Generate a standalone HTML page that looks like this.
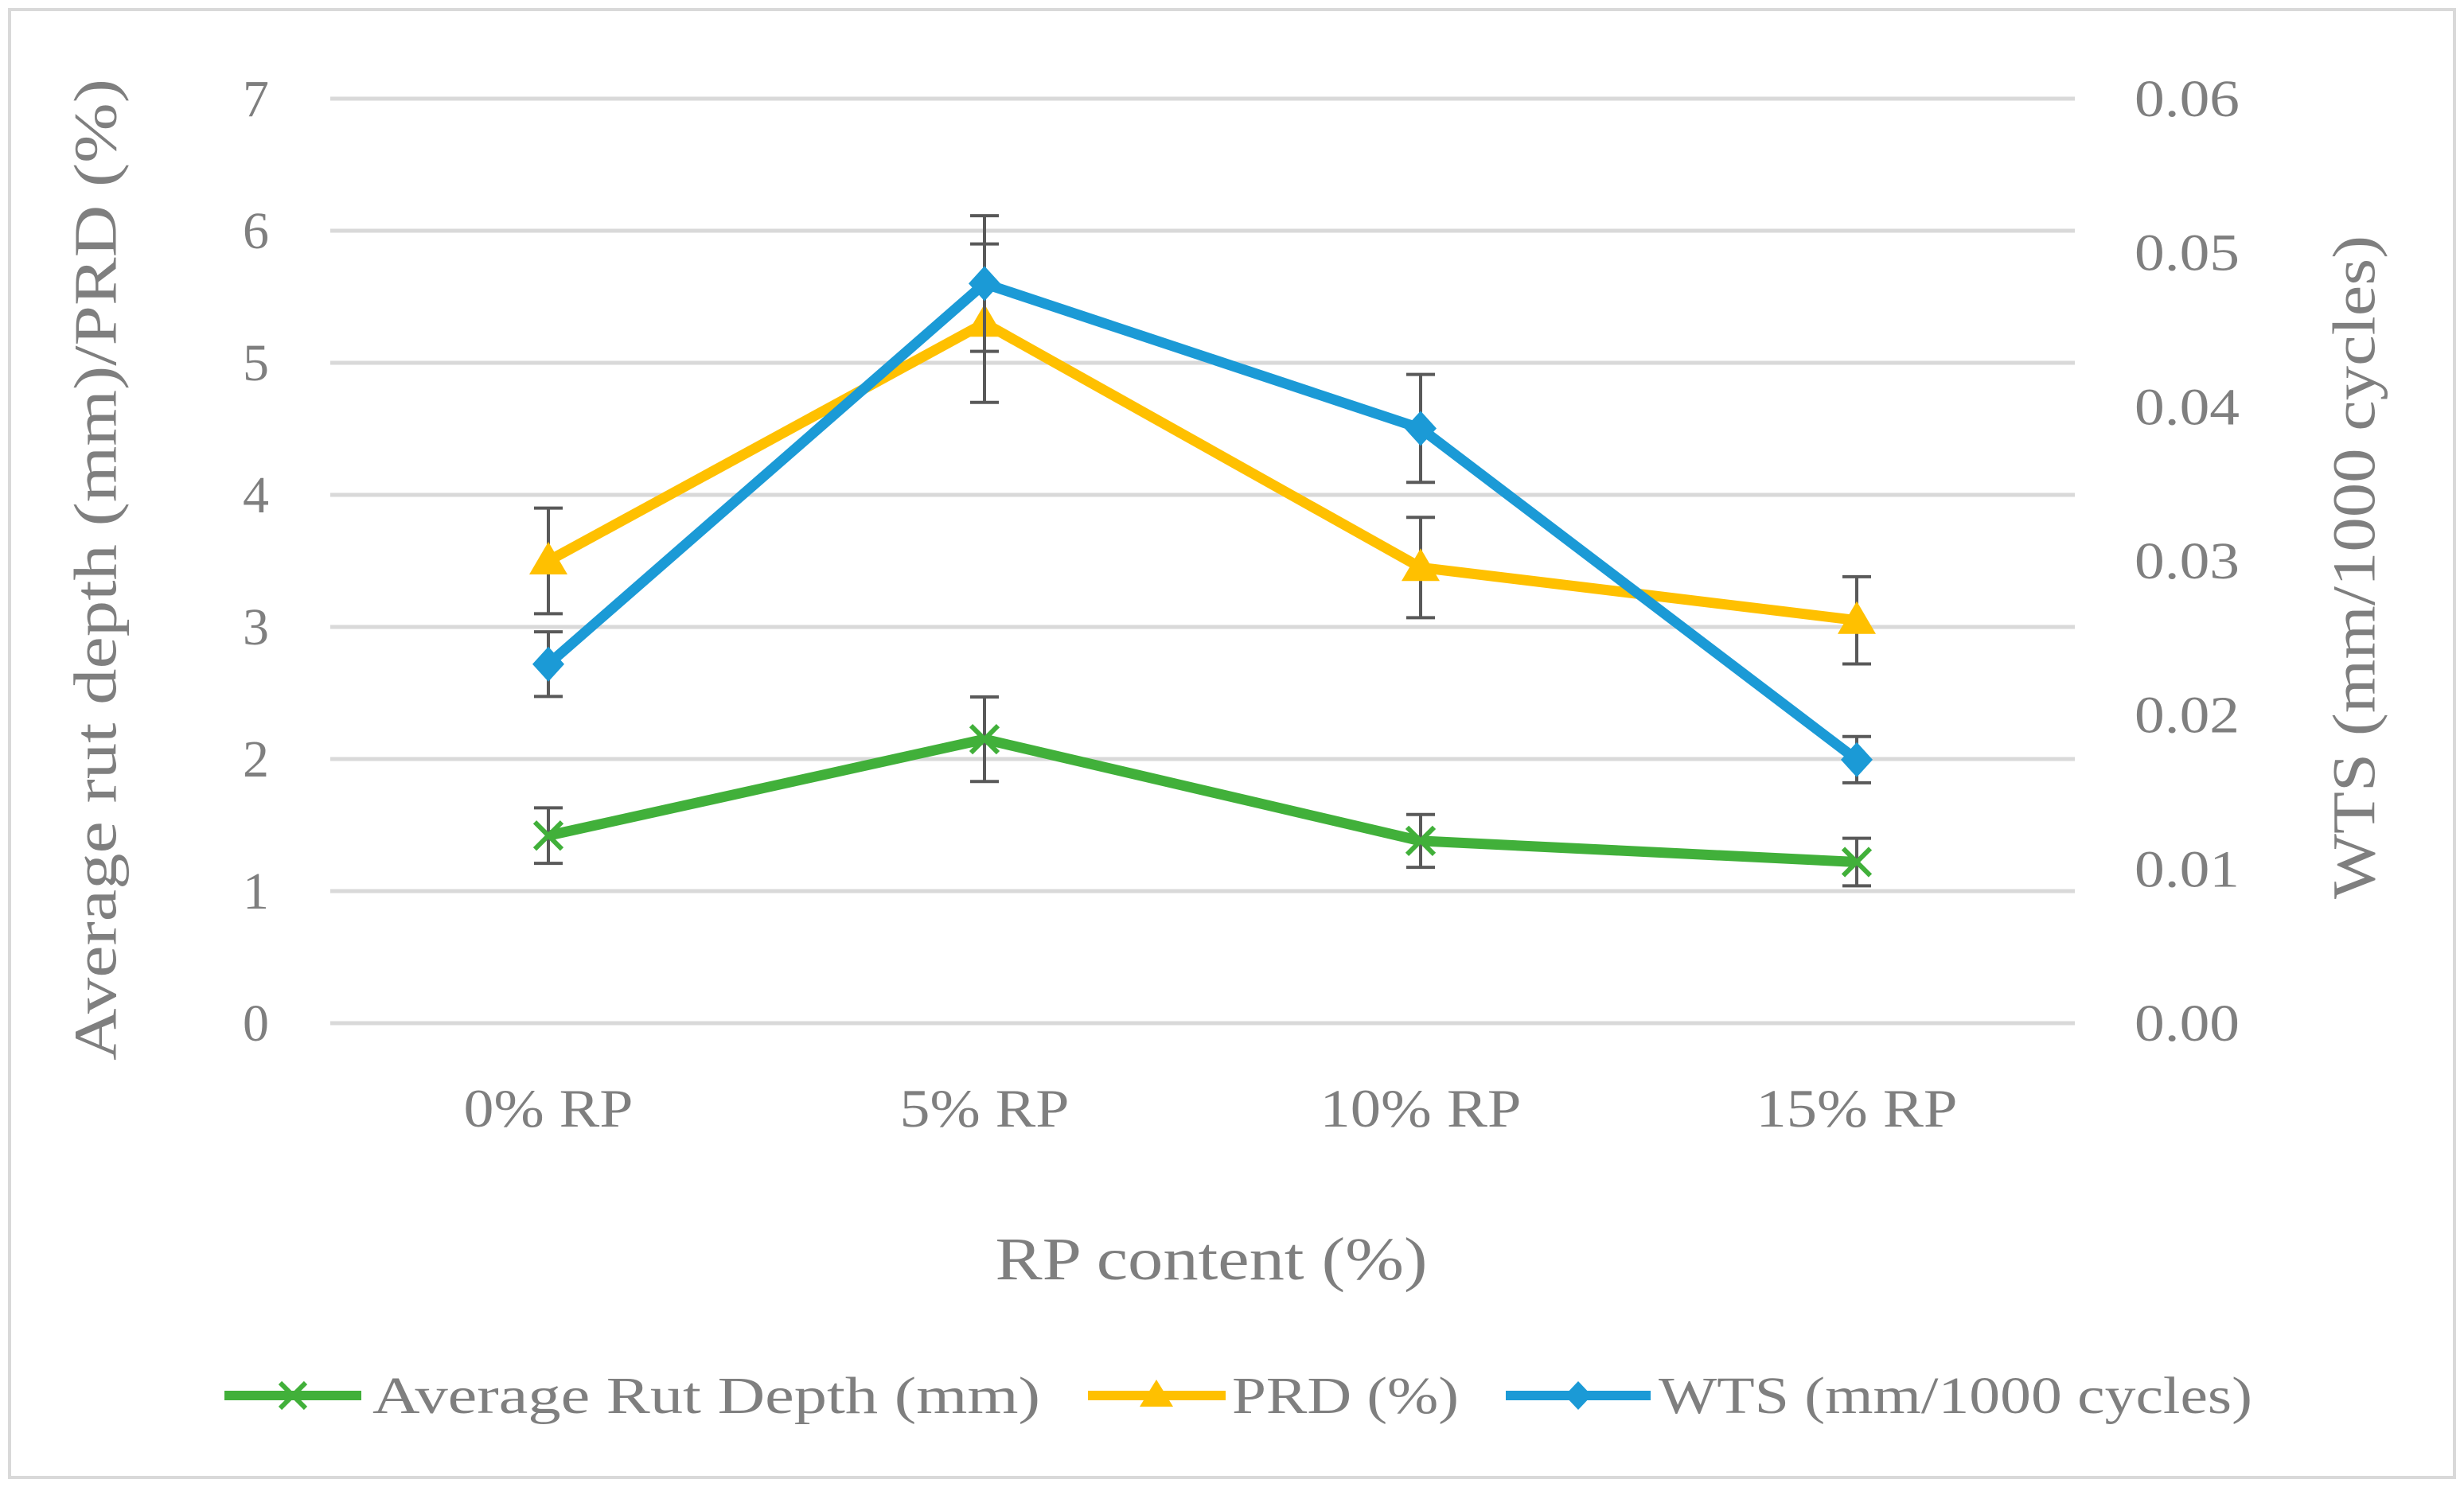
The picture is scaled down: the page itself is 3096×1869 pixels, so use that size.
<!DOCTYPE html>
<html><head><meta charset="utf-8"><style>
html,body{margin:0;padding:0;background:#fff;}
svg{display:block;font-family:"Liberation Serif",serif;}
</style></head><body>
<svg id="chart" width="3096" height="1869" viewBox="0 0 3096 1869">
<rect x="12" y="12" width="3072" height="1845" fill="#fff" stroke="#d9d9d9" stroke-width="4"/>
<g id="grid"></g>
<g id="series"></g>
<g id="labels" fill="#7f7f7f"></g>
<text x="128" y="716" font-size="76" fill="#7f7f7f" text-anchor="middle" dominant-baseline="middle" textLength="1234" lengthAdjust="spacingAndGlyphs" transform="rotate(-90 128 716)">Average rut depth (mm)/PRD (%)</text>
<text x="2966" y="713" font-size="76" fill="#7f7f7f" text-anchor="middle" dominant-baseline="middle" textLength="834" lengthAdjust="spacingAndGlyphs" transform="rotate(-90 2966 713)">WTS (mm/1000 cycles)</text>
<text x="1522" y="1608" font-size="76" fill="#7f7f7f" text-anchor="middle" textLength="543" lengthAdjust="spacingAndGlyphs">RP content (%)</text>
<g>
 <g>
  <line x1="282" y1="1754" x2="454" y2="1754" stroke="#41b03a" stroke-width="12"/>
  <path d="M352 1738 L384 1770 M384 1738 L352 1770" stroke="#41b03a" stroke-width="6"/>
  <text x="468" y="1776" font-size="66" fill="#7f7f7f" textLength="839" lengthAdjust="spacingAndGlyphs">Average Rut Depth (mm)</text>
 </g>
 <g>
  <line x1="1367" y1="1754" x2="1540" y2="1754" stroke="#ffc000" stroke-width="12"/>
  <path d="M1453 1734 L1474 1768 L1432 1768 Z" fill="#ffc000"/>
  <text x="1548" y="1776" font-size="66" fill="#7f7f7f" textLength="285" lengthAdjust="spacingAndGlyphs">PRD (%)</text>
 </g>
 <g>
  <line x1="1892" y1="1754" x2="2074" y2="1754" stroke="#1b9ad6" stroke-width="12"/>
  <path d="M1983 1736 L2000 1754 L1983 1772 L1966 1754 Z" fill="#1b9ad6"/>
  <text x="2084" y="1776" font-size="66" fill="#7f7f7f" textLength="746" lengthAdjust="spacingAndGlyphs">WTS (mm/1000 cycles)</text>
 </g>
</g>
</svg>
<script>
const categories = ["0% RP","5% RP","10% RP","15% RP"];
const rutDepth = [1.42, 2.15, 1.38, 1.22];
const rutErr = [0.21, 0.32, 0.20, 0.18];
const prd = [3.5, 5.3, 3.45, 3.05];
const prdErr = [0.4, 0.6, 0.38, 0.33];
const wts = [0.0233, 0.048, 0.0386, 0.0171];
const wtsErr = [0.0021, 0.0044, 0.0035, 0.0015];
const leftTicks = ["0","1","2","3","4","5","6","7"];
const rightTicks = ["0.00","0.01","0.02","0.03","0.04","0.05","0.06"];

const NS="http://www.w3.org/2000/svg";
const L=415,R=2607,T=124,B=1286;
const yL=v=>B-(v/7)*(B-T);
const yR=v=>B-(v/0.06)*(B-T);
const x=i=>L+(i+0.5)*(R-L)/categories.length;
function mk(tag,attrs,parent){const e=document.createElementNS(NS,tag);for(const k in attrs)e.setAttribute(k,attrs[k]);parent.appendChild(e);return e;}
const grid=document.getElementById('grid'),ser=document.getElementById('series'),lab=document.getElementById('labels');
leftTicks.forEach((t,i)=>{
  const v=+t;
  const g=mk('line',{x1:L,x2:R,y1:yL(v),y2:yL(v),stroke:'#d9d9d9','stroke-width':5},grid);
  
  
  const tx=mk('text',{x:338,y:yL(v)+22,'font-size':66,'text-anchor':'end'},lab);
  tx.textContent=t;
  
  
});
rightTicks.forEach(t=>{
  const tx=mk('text',{x:2682,y:yR(+t)+22,'font-size':66,textLength:132,lengthAdjust:'spacingAndGlyphs'},lab);
  tx.textContent=t;
  
  
});
categories.forEach((c,i)=>{
  const tx=mk('text',{x:x(i),y:1416,'font-size':68,'text-anchor':'middle',textLength:(c.length>5?253:213),lengthAdjust:'spacingAndGlyphs'},lab);
  tx.textContent=c;
  
  
});
function err(xc,y1,y2){
  const g=mk('path',{d:`M${xc} ${y1} L${xc} ${y2} M${xc-18} ${y1} L${xc+18} ${y1} M${xc-18} ${y2} L${xc+18} ${y2}`,stroke:'#595959','stroke-width':4,fill:'none'},ser);
  
  
}
function series(vals,errs,sc,color,name,marker){
  const pts=vals.map((v,i)=>[x(i),sc(v)]);
  const pl=mk('polyline',{points:pts.map(p=>p.join(',')).join(' '),fill:'none',stroke:color,'stroke-width':13,'stroke-linejoin':'round'},ser);
  
  
  vals.forEach((v,i)=>err(x(i),sc(v+errs[i]),sc(v-errs[i])));
  pts.forEach(([px,py])=>{
    let m;
    if(marker==='x') m=mk('path',{d:`M${px-17} ${py-17} L${px+17} ${py+17} M${px+17} ${py-17} L${px-17} ${py+17}`,stroke:color,'stroke-width':6},ser);
    else if(marker==='tri') m=mk('path',{d:`M${px} ${py-24} L${px+24} ${py+17} L${px-24} ${py+17} Z`,fill:color},ser);
    else m=mk('path',{d:`M${px} ${py-22} L${px+20} ${py} L${px} ${py+22} L${px-20} ${py} Z`,fill:color},ser);
    
    
  });
}
series(rutDepth,rutErr,yL,'#41b03a','rut-depth','x');
series(prd,prdErr,yL,'#ffc000','prd','tri');
series(wts,wtsErr,yR,'#1b9ad6','wts','dia');
</script>
</body></html>
